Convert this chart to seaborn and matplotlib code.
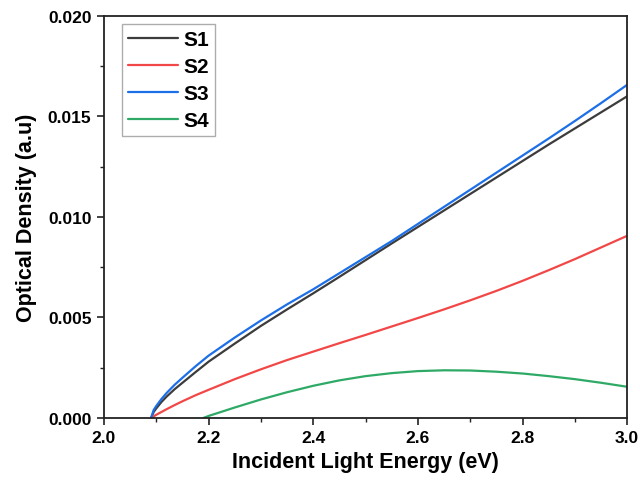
import matplotlib
matplotlib.use("Agg")
import matplotlib.pyplot as plt
import seaborn as sns
from matplotlib.ticker import MultipleLocator, FormatStrFormatter

# Data
x_main = [2.09, 2.095, 2.10, 2.11, 2.12, 2.135, 2.15, 2.175, 2.20, 2.25, 2.30, 2.35, 2.40,
          2.45, 2.50, 2.55, 2.60, 2.65, 2.70, 2.75, 2.80, 2.85, 2.90, 2.95, 3.00]
s1 = [0.0, 0.0003, 0.00048, 0.0008, 0.00107, 0.00143, 0.00175, 0.00228, 0.0028, 0.0037, 0.00458, 0.0054, 0.0062,
      0.00702, 0.00785, 0.00868, 0.0095, 0.01032, 0.01114, 0.01196, 0.01278, 0.0136, 0.0144, 0.0152, 0.0160]
s2 = [0.0, 0.00008, 0.00016, 0.0003, 0.00044, 0.00064, 0.00083, 0.00113, 0.0014, 0.00193, 0.00242, 0.00288,
      0.0033, 0.00372, 0.00413, 0.00455, 0.00497, 0.0054, 0.00585, 0.00632, 0.00682, 0.00735, 0.0079,
      0.00848, 0.00906]
s3 = [0.0, 0.0004, 0.0006, 0.00095, 0.00125, 0.00165, 0.0020, 0.00257, 0.0031, 0.0040, 0.00485, 0.00565, 0.0064,
      0.0072, 0.0080, 0.0088, 0.00965, 0.0105, 0.01135, 0.0122, 0.01305, 0.0139, 0.01477, 0.01566, 0.01657]
x_s4 = [2.19, 2.20, 2.25, 2.30, 2.35, 2.40, 2.45, 2.50, 2.55, 2.60, 2.65, 2.70, 2.75, 2.80, 2.85, 2.90, 2.95, 3.00]
s4 = [0.0, 0.0001, 0.00052, 0.00092, 0.00128, 0.0016, 0.00187, 0.00208, 0.00223, 0.00233, 0.00237, 0.00236,
      0.0023, 0.00221, 0.00208, 0.00193, 0.00175, 0.00155]

labels = ["S1", "S2", "S3", "S4"]
colors = ["#3c3c3c", "#f24747", "#1c6fe6", "#2eaa66"]

sns.set_style("ticks")
plt.rcParams['font.family'] = ['Liberation Sans', 'DejaVu Sans']
plt.rcParams['font.weight'] = 'bold'
plt.rcParams['text.color'] = 'black'
plt.rcParams['axes.labelcolor'] = 'black'

fig = plt.figure(figsize=(6.4, 4.81), dpi=100)
ax = fig.add_axes([0.1625, 0.129, 0.8175, 0.836])

series = [(x_main, s1), (x_main, s2), (x_main, s3), (x_s4, s4)]
for (xs, ys), lab, col in zip(series, labels, colors):
    sns.lineplot(x=xs, y=ys, ax=ax, color=col, linewidth=1.6, label=lab)

ax.set_xlim(2.0, 3.0)
ax.set_ylim(0.0, 0.020)
ax.xaxis.set_major_locator(MultipleLocator(0.2))
ax.xaxis.set_minor_locator(MultipleLocator(0.1))
ax.yaxis.set_major_locator(MultipleLocator(0.005))
ax.yaxis.set_minor_locator(MultipleLocator(0.0025))
ax.xaxis.set_major_formatter(FormatStrFormatter('%.1f'))
ax.yaxis.set_major_formatter(FormatStrFormatter('%.3f'))

for sp in ax.spines.values():
    sp.set_visible(True)
    sp.set_linewidth(1.3)
    sp.set_color('#222222')

ax.tick_params(axis='both', which='major', direction='out', length=5, width=1.2,
               labelsize=12.5, colors='#222222', labelcolor='black', top=False, right=False, pad=4)
ax.tick_params(axis='both', which='minor', direction='out', length=3, width=1.0,
               top=False, right=False, colors='#222222')
for t in ax.get_xticklabels() + ax.get_yticklabels():
    t.set_fontweight('bold')

ax.set_xlabel("Incident Light Energy (eV)", fontsize=15.5, fontweight='bold', labelpad=4, color='black')
ax.set_ylabel("Optical Density (a.u)", fontsize=15.5, fontweight='bold', labelpad=8, color='black')

leg = ax.legend(loc='upper left', bbox_to_anchor=(0.034, 0.98), frameon=True, fancybox=False,
                edgecolor='#999999', handlelength=2.4, handletextpad=0.25, borderpad=0.3,
                labelspacing=0.38, borderaxespad=0.0, prop={'weight': 'bold', 'size': 15})
leg.get_frame().set_linewidth(1.0)
for t in leg.get_texts():
    t.set_color('black')

fig.savefig("out.png", dpi=100)
